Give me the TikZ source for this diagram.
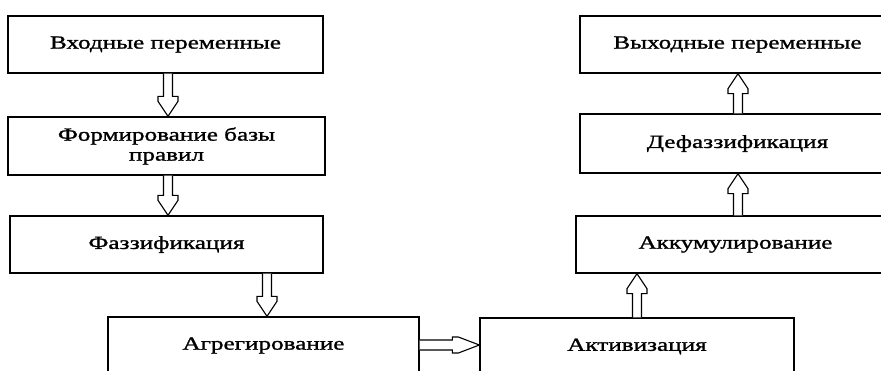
\documentclass[tikz,border=0pt]{standalone}
\usepackage{fontspec}
\setmainfont[FakeStretch=1.36,FakeBold=1.3]{Liberation Serif}
\usetikzlibrary{calc}
\tikzset{
  box/.style={draw=black, line width=1.3pt, rectangle, inner sep=0pt, align=center,
    font=\fontsize{18.5}{20}\selectfont, text=black},
  blk/.style={draw=black, line width=1.1pt, fill=white, line join=miter}
}
\newcommand\blkdown[3]{%
  \draw[blk] let \p1=(#1.south), \p2=(#2.north) in
  ({#3pt-4.5pt},\y1) -- ({#3pt-4.5pt},{\y2+20pt}) -- ({#3pt-10pt},{\y2+20pt}) --
  ({#3pt-10pt},{\y2+15pt}) -- (#3pt,\y2) -- ({#3pt+10pt},{\y2+15pt}) --
  ({#3pt+10pt},{\y2+20pt}) -- ({#3pt+4.5pt},{\y2+20pt}) -- ({#3pt+4.5pt},\y1);}
\newcommand\blkup[3]{%
  \draw[blk] let \p1=(#1.north), \p2=(#2.south) in
  ({#3pt-4.5pt},\y1) -- ({#3pt-4.5pt},{\y2-20pt}) -- ({#3pt-10pt},{\y2-20pt}) --
  ({#3pt-10pt},{\y2-15pt}) -- (#3pt,\y2) -- ({#3pt+10pt},{\y2-15pt}) --
  ({#3pt+10pt},{\y2-20pt}) -- ({#3pt+4.5pt},{\y2-20pt}) -- ({#3pt+4.5pt},\y1);}
\newcommand\blkright[3]{%
  \draw[blk] let \p1=(#1.east), \p2=(#2.west), \p3=(0,#3) in
  (\x1,{\y3+5pt}) -- ({\x2-27pt},{\y3+5pt}) -- ({\x2-27pt},{\y3+8pt}) --
  ({\x2-21pt},{\y3+8pt}) -- (\x2,\y3) -- ({\x2-21pt},{\y3-8pt}) --
  ({\x2-27pt},{\y3-8pt}) -- ({\x2-27pt},{\y3-5pt}) -- (\x1,{\y3-5pt});}
\begin{document}
\begin{tikzpicture}[x=1pt,y=-1pt]
\useasboundingbox (0,0) rectangle (881,370);
\clip (0,0) rectangle (881,370);
\node[box, minimum width=315pt, minimum height=57pt] (in) at (165.5,44.5) {Входные переменные};
\node[box, minimum width=317pt, minimum height=58pt] (rules) at (166.5,146) {Формирование базы\\правил};
\node[box, minimum width=313pt, minimum height=57pt] (fuzz) at (166.5,244.5) {Фаззификация};
\node[box, minimum width=311pt, minimum height=57pt] (agg) at (263.5,345.5) {Агрегирование};
\node[box, minimum width=314pt, minimum height=57pt] (act) at (637,346.5) {Активизация};
\node[box, minimum width=319pt, minimum height=57pt] (acc) at (735.5,244.5) {Аккумулирование};
\node[box, minimum width=315pt, minimum height=59pt] (defuzz) at (737.5,143.5) {Дефаззификация};
\node[box, minimum width=315pt, minimum height=57pt] (out) at (737.5,44.5) {Выходные переменные};
\blkdown{in}{rules}{168}
\blkdown{rules}{fuzz}{168}
\blkdown{fuzz}{agg}{267}
\blkright{agg}{act}{345}
\blkup{act}{acc}{637}
\blkup{acc}{defuzz}{738}
\blkup{defuzz}{out}{738}
\end{tikzpicture}
\end{document}
